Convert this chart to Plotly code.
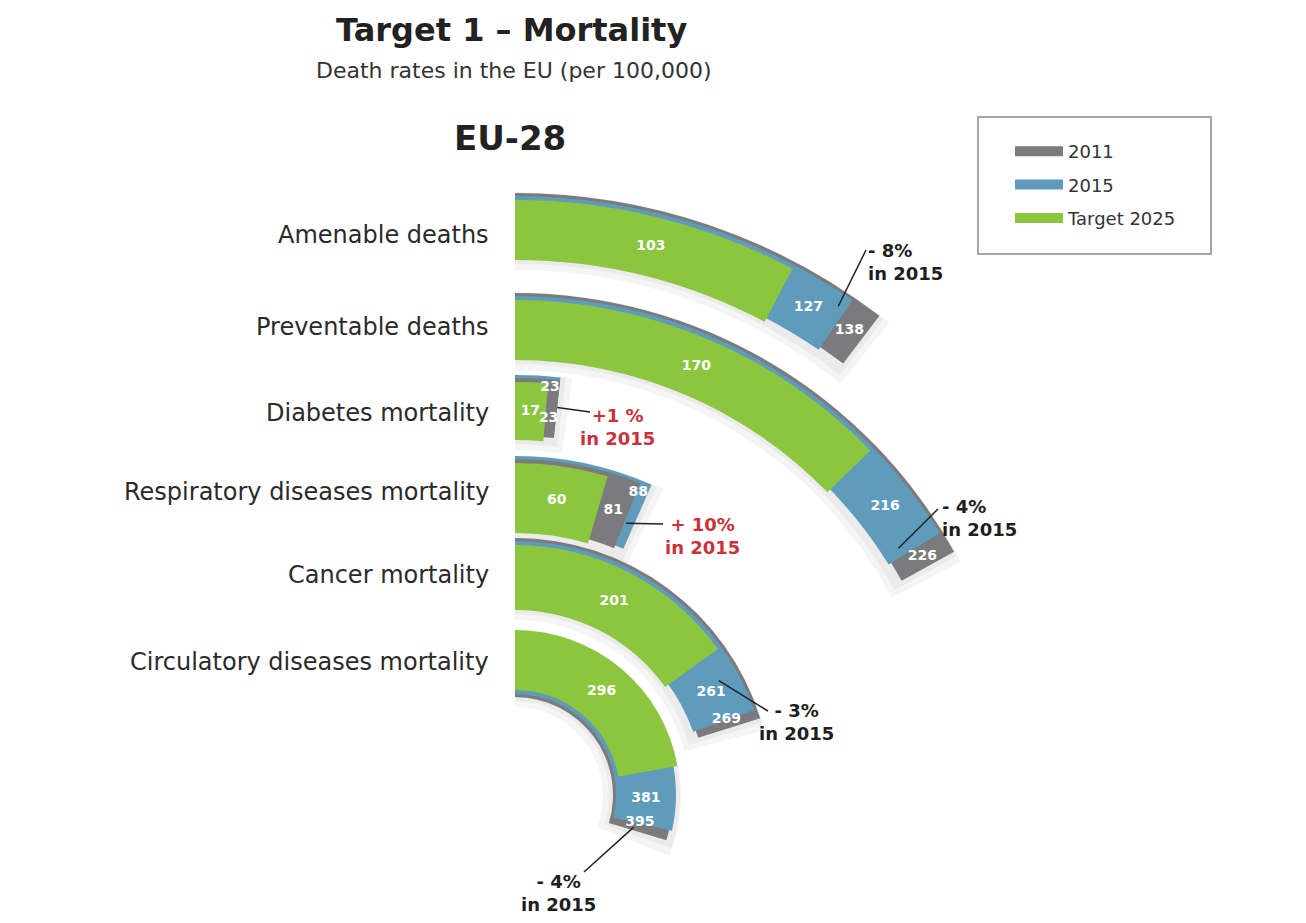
import math
import plotly.graph_objects as go

# ---------------- data ----------------
categories = ["Amenable deaths", "Preventable deaths", "Diabetes mortality",
              "Respiratory diseases mortality", "Cancer mortality",
              "Circulatory diseases mortality"]
rate_2011 = [138, 226, 23, 81, 269, 395]
rate_2015 = [127, 216, 23, 88, 261, 381]
target_2025 = [103, 170, 17, 60, 201, 296]
change_text = ["- 8%", "- 4%", "+1 %", "+ 10%", "- 3%", "- 4%"]
change_year = ["in 2015"] * 6

# ---------------- style / layout ----------------
W, H = 1306, 923
CX, CY = 515, 795          # pixel position of the common centre
R1 = 610                   # radial range of the outer polar (1 unit = 1 px)
R2 = 180                   # radial range of the inner polar (1 unit = 1 px)
SEC2 = 40                  # inner polar sector reaches 40 deg below horizontal
K = 0.27                   # degrees of arc per unit of death rate
ring_inner = [535, 435, 355, 262, 185, 105]
ring_thick = [60, 60, 58, 70, 65, 60]
shift_dir = [1, 1, 1, 1, 1, -1]
subplot_of = ["polar", "polar", "polar", "polar", "polar", "polar2"]
label_y = [235, 327, 413, 492, 575, 662]
back_label_rfrac = [0.5, 0.5, 0.93, 0.82, 0.5, 0.5]
OFF_BACK, OFF_MID = 7, 4
COL = {"2011": "#7b7b7d", "2015": "#5f9cbc", "2025": "#8cc63e"}
FONT = "DejaVu Sans"
change_color = ["#1e1e1e", "#1e1e1e", "#c8323a", "#c8323a", "#1e1e1e", "#1e1e1e"]
change_pos = [(866, 262, "left"), (940, 518, "left"), (617, 427, "center"),
              (702, 536, "center"), (796, 722, "center"), (558, 893, "center")]
leader_end = [(866, 250), (938, 509), (590, 412), (663, 524), (768, 711), (584, 872)]
tip_at = [(0.6, 0.85, 0), (0.75, 0.35, 0), (1.0, 0.6, 0), (1.0, 0.45, 1.5),
          (0.35, 0.75, 0), (1.0, 0.3, 1.5)]


def to_px(theta, r):
    return (CX + r * math.sin(math.radians(theta)),
            CY - r * math.cos(math.radians(theta)))


fig = go.Figure()


def empty():
    return dict(theta=[], width=[], base=[], r=[], color=[])


layers = {sp: {k: empty() for k in ("sh1", "sh2", "back", "mid", "front")} for sp in ("polar", "polar2")}
labels = {sp: dict(theta=[], r=[], text=[]) for sp in ("polar", "polar2")}

for i, cat in enumerate(categories):
    sp = subplot_of[i]
    pair = [("2015", rate_2015[i], 0), ("2011", rate_2011[i], 1)]
    pair.sort(key=lambda p: (-p[1], p[2]))
    back, mid = pair[0], pair[1]
    front = ("2025", target_2025[i])
    inner, th, d = ring_inner[i], ring_thick[i], shift_dir[i]
    for name, item, off in (("back", back, OFF_BACK), ("mid", mid, OFF_MID), ("front", front, 0)):
        v = item[1]
        L = layers[sp][name]
        L["theta"].append(v * K / 2)
        L["width"].append(v * K)
        L["base"].append(inner + d * off)
        L["r"].append(th)
        L["color"].append(COL[item[0]])
    # soft drop shadow (mostly on the inner side)
    lo = min(inner, inner + d * OFF_BACK)
    hi = max(inner + th, inner + th + d * OFF_BACK)
    for name, grow_in, grow_out in (("sh1", 4, 0), ("sh2", 10, 1)):
        rmid = (lo + hi) / 2
        extra = math.degrees((grow_in + 1) / rmid)
        span = back[1] * K + extra
        L = layers[sp][name]
        L["theta"].append(span / 2)
        L["width"].append(span)
        L["base"].append(lo - grow_in)
        L["r"].append(hi - lo + grow_in + grow_out)
        L["color"].append("rgba(0,0,0,0.04)")

    rm = inner + th / 2
    lb = labels[sp]
    lb["theta"].append(front[1] * K / 2); lb["r"].append(rm); lb["text"].append(str(front[1]))
    if back[1] == mid[1]:
        t = (front[1] + mid[1]) * K / 2
        lb["theta"].append(t - 0.3); lb["r"].append(inner + th * 0.4); lb["text"].append(str(mid[1]))
        lb["theta"].append(t - 0.5); lb["r"].append(inner + th * back_label_rfrac[i])
        lb["text"].append(str(back[1]))
    else:
        lb["theta"].append((front[1] + mid[1]) * K / 2); lb["r"].append(rm + d * OFF_MID)
        lb["text"].append(str(mid[1]))
        rb = inner + th * back_label_rfrac[i] + d * OFF_BACK
        tb = min((mid[1] + back[1]) * K / 2, back[1] * K - math.degrees(9 / rb))
        lb["theta"].append(tb); lb["r"].append(rb)
        lb["text"].append(str(back[1]))

for sp in ("polar", "polar2"):
    for name in ("sh2", "sh1", "back", "mid", "front"):
        L = layers[sp][name]
        if not L["theta"]:
            continue
        fig.add_trace(go.Barpolar(theta=L["theta"], width=L["width"], base=L["base"], r=L["r"],
                                  marker=dict(color=L["color"], line=dict(width=0)),
                                  subplot=sp, showlegend=False, hoverinfo="skip"))
    lb = labels[sp]
    fig.add_trace(go.Scatterpolar(theta=lb["theta"], r=lb["r"], text=lb["text"], mode="text",
                                  textfont=dict(family=FONT, size=14, color="white", weight="bold"),
                                  cliponaxis=False, subplot=sp, showlegend=False, hoverinfo="skip"))

# legend entries
for nm, key in (("2011", "2011"), ("2015", "2015"), ("Target 2025", "2025")):
    fig.add_trace(go.Scatterpolar(theta=[0], r=[0], mode="lines", name=nm,
                                  line=dict(color=COL[key], width=10),
                                  legendgroup=nm, hoverinfo="skip"))

annotations = [
    dict(text="<b>Target 1 – Mortality</b>", x=511 / W, y=1 - 30 / H, font=dict(size=32, color="#222")),
    dict(text="Death rates in the EU (per 100,000)", x=513 / W, y=1 - 70 / H, font=dict(size=22, color="#333")),
    dict(text="<b>EU-28</b>", x=510 / W, y=1 - 138 / H, font=dict(size=34, color="#222")),
]
shapes = []
for i, cat in enumerate(categories):
    annotations.append(dict(text=cat, x=491 / W, y=1 - label_y[i] / H, xanchor="right",
                            font=dict(size=24, color="#2a2a2a")))
    px, py, al = change_pos[i]
    annotations.append(dict(text=f"<b>{change_text[i]}<br>{change_year[i]}</b>", x=px / W, y=1 - py / H,
                            xanchor=al, align=al, font=dict(size=18, color=change_color[i])))
    fv, fr, back_deg = tip_at[i]
    tmax = max(rate_2011[i], rate_2015[i])
    tv = target_2025[i] + fv * (tmax - target_2025[i])
    tx, ty = to_px(tv * K - back_deg, ring_inner[i] + ring_thick[i] * fr)
    ex, ey = leader_end[i]
    shapes.append(dict(type="line", xref="paper", yref="paper", x0=tx / W, y0=1 - ty / H,
                       x1=ex / W, y1=1 - ey / H, line=dict(color="#222", width=1.5)))

for a in annotations:
    a.update(xref="paper", yref="paper", showarrow=False, yanchor=a.get("yanchor", "middle"))
    a.setdefault("xanchor", "center")
    a["font"]["family"] = FONT

shapes.append(dict(type="rect", xref="paper", yref="paper", x0=978 / W, x1=1211 / W,
                   y0=1 - 254 / H, y1=1 - 117 / H, line=dict(color="#a6a6a6", width=2)))

hidden_axes = dict(
    radialaxis=dict(visible=False, showgrid=False, showline=False),
    angularaxis=dict(rotation=90, direction="clockwise", visible=False,
                     showgrid=False, showline=False),
)
bottom2 = CY + R2 * math.sin(math.radians(SEC2))
fig.update_layout(
    width=W, height=H, margin=dict(l=0, r=0, t=0, b=0),
    paper_bgcolor="white", plot_bgcolor="white",
    font=dict(family=FONT),
    polar=dict(
        domain=dict(x=[CX / W, (CX + R1) / W], y=[1 - CY / H, 1 - (CY - R1) / H]),
        sector=[0, 90], hole=0, bgcolor="rgba(0,0,0,0)", barmode="overlay", **hidden_axes,
    ),
    polar2=dict(
        domain=dict(x=[CX / W, (CX + R2) / W], y=[1 - bottom2 / H, 1 - (CY - R2) / H]),
        sector=[-SEC2, 90], hole=0, bgcolor="rgba(0,0,0,0)", barmode="overlay", **hidden_axes,
    ),
    legend=dict(x=1010 / W, y=1 - 133 / H, xanchor="left", yanchor="top",
                font=dict(size=18, color="#333", family=FONT), bgcolor="rgba(0,0,0,0)",
                tracegroupgap=7, itemwidth=48),
    annotations=annotations, shapes=shapes,
)
fig.layout.polar.radialaxis.range = [0, R1]
fig.layout.polar2.radialaxis.range = [0, R2]

fig.write_html("out.html", config={"displayModeBar": False},
               post_script="document.body.style.margin='0px';")
